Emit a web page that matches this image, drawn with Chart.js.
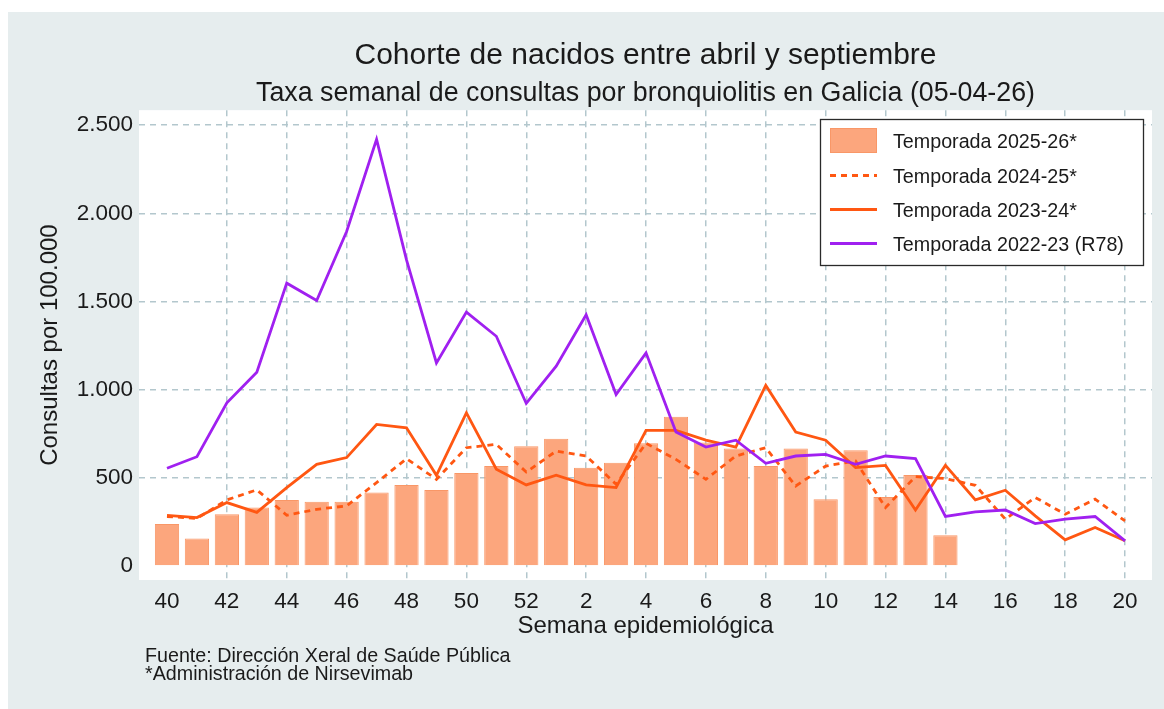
<!DOCTYPE html>
<html>
<head>
<meta charset="utf-8">
<script src="https://cdn.jsdelivr.net/npm/chart.js@4.4.1/dist/chart.umd.min.js"></script>
<style>
  html, body { margin: 0; padding: 0; background: #ffffff; }
  #wrap { position: relative; width: 1164px; height: 709px; }
  canvas { display: block; }
</style>
</head>
<body>
<div id="wrap"><canvas id="c" width="1164" height="709"></canvas></div>
<script>
// ---- Data ----
const weeks = [40,41,42,43,44,45,46,47,48,49,50,51,52,1,2,3,4,5,6,7,8,9,10,11,12,13,14,15,16,17,18,19,20];
const yTicks = [0, 500, 1000, 1500, 2000, 2500];
const season2526 = [238,157,294,332,375,364,364,417,460,432,528,567,680,722,558,586,696,847,700,666,567,666,379,656,392,516,175,null,null,null,null,null,null];
const season2425 = [281,270,375,432,288,322,341,473,609,492,671,690,533,652,624,464,696,605,492,624,671,454,567,596,332,507,496,458,266,389,294,379,256];
const season2324 = [288,275,360,304,445,577,615,803,784,515,869,549,460,515,460,445,769,769,714,675,1024,760,714,558,571,318,571,375,430,285,149,219,143];
const season2223 = [555,620,926,1099,1604,1506,1897,2419,1736,1152,1440,1303,922,1133,1425,973,1209,760,675,714,583,624,633,577,624,609,281,307,318,241,266,281,143];
const seriesLabels = ['Temporada 2025-26*','Temporada 2024-25*','Temporada 2023-24*','Temporada 2022-23 (R78)'];
const titleText = 'Cohorte de nacidos entre abril y septiembre';
const subtitleText = 'Taxa semanal de consultas por bronquiolitis en Galicia (05-04-26)';
const yTitle = 'Consultas por 100.000';
const xTitle = 'Semana epidemiológica';
const notes = ['Fuente: Dirección Xeral de Saúde Pública', '*Administración de Nirsevimab'];

const FONT = "'Liberation Sans', Arial, sans-serif";
const BG = '#e6edee';
const GRID = '#b3c7cd';
const BAR_FILL = '#fca67d';
const BAR_BORDER = '#f99767';
const ORANGE = '#ff5712';
const PURPLE = '#a020f0';

const toXY = arr => arr.map((v, i) => ({ x: i, y: v }));
function fmtThousands(v) {
  const s = String(Math.round(v));
  return s.replace(/\B(?=(\d{3})+(?!\d))/g, '.');
}

const bgPlugin = {
  id: 'bg',
  beforeDraw(chart) {
    const { ctx, chartArea } = chart;
    ctx.save();
    ctx.fillStyle = '#ffffff';
    ctx.fillRect(0, 0, chart.width, chart.height);
    ctx.fillStyle = BG;
    ctx.fillRect(8, 12, chart.width - 8, chart.height - 12);
    ctx.fillStyle = '#ffffff';
    ctx.fillRect(chartArea.left, chartArea.top, chartArea.right - chartArea.left, chartArea.bottom - chartArea.top);
    ctx.restore();
  }
};

const legendPlugin = {
  id: 'boxLegend',
  afterDraw(chart) {
    const { ctx } = chart;
    const ds = chart.data.datasets;
    const x0 = 820, y0 = 119, w = 323, h = 146;
    ctx.save();
    ctx.fillStyle = '#ffffff';
    ctx.fillRect(x0, y0, w, h);
    ctx.strokeStyle = '#2a2a2a';
    ctx.lineWidth = 1.3;
    ctx.strokeRect(x0 + 0.5, y0 + 0.5, w, h);
    const rowsY = [141, 175.5, 209.5, 243.5];
    ctx.font = '19.7px ' + FONT;
    ctx.textBaseline = 'alphabetic';
    ds.forEach((d, r) => {
      const cy = rowsY[r];
      if (d.type === 'bar') {
        ctx.fillStyle = d.backgroundColor;
        ctx.fillRect(830, 128, 47, 25);
        ctx.strokeStyle = d.borderColor;
        ctx.lineWidth = 1;
        ctx.strokeRect(830.5, 128.5, 46, 24);
      } else {
        ctx.strokeStyle = d.borderColor;
        ctx.lineWidth = d.borderWidth;
        ctx.setLineDash(d.borderDash || []);
        ctx.beginPath();
        ctx.moveTo(830, cy);
        ctx.lineTo(877, cy);
        ctx.stroke();
        ctx.setLineDash([]);
      }
      ctx.fillStyle = '#1a1a1a';
      ctx.fillText(d.label, 893, cy + 7);
    });
    ctx.restore();
  }
};

const notesPlugin = {
  id: 'notes',
  afterDraw(chart) {
    const { ctx } = chart;
    ctx.save();
    ctx.font = '19.7px ' + FONT;
    ctx.fillStyle = '#1a1a1a';
    ctx.textBaseline = 'alphabetic';
    ctx.textAlign = 'left';
    ctx.fillText(notes[0], 145, 662);
    ctx.fillText(notes[1], 145, 680);
    ctx.restore();
  }
};

new Chart(document.getElementById('c'), {
  data: {
    datasets: [
      { type: 'bar', label: seriesLabels[0], data: toXY(season2526), backgroundColor: BAR_FILL, borderColor: BAR_BORDER, borderWidth: 1, categoryPercentage: 1, barPercentage: 0.81, order: 4 },
      { type: 'line', label: seriesLabels[1], data: toXY(season2425), borderColor: ORANGE, borderWidth: 2.8, borderDash: [6, 5], pointRadius: 0, fill: false, tension: 0, order: 3 },
      { type: 'line', label: seriesLabels[2], data: toXY(season2324), borderColor: ORANGE, borderWidth: 2.8, pointRadius: 0, fill: false, tension: 0, order: 2 },
      { type: 'line', label: seriesLabels[3], data: toXY(season2223), borderColor: PURPLE, borderWidth: 2.8, pointRadius: 0, fill: false, tension: 0, order: 1 }
    ]
  },
  options: {
    responsive: false,
    animation: false,
    layout: { padding: { left: 0, right: 12, top: 0, bottom: 0 } },
    plugins: {
      legend: { display: false },
      tooltip: { enabled: false },
      title: {
        display: true, text: titleText, fullSize: false,
        color: '#1a1a1a', font: { family: FONT, size: 30, weight: 'normal', lineHeight: 1.2 },
        padding: { top: 38, bottom: 0 }
      },
      subtitle: {
        display: true, text: subtitleText, fullSize: false,
        color: '#1a1a1a', font: { family: FONT, size: 26.8, weight: 'normal', lineHeight: 1.2 },
        padding: { top: 4, bottom: 0 }
      }
    },
    scales: {
      x: {
        type: 'linear',
        offset: false,
        min: -0.935,
        max: 32.9,
        afterBuildTicks(scale) {
          const t = [];
          for (let i = 0; i < weeks.length; i += 2) t.push({ value: i });
          scale.ticks = t;
        },
        afterFit(scale) { scale.height = 129; },
        ticks: {
          padding: 8,
          color: '#1a1a1a',
          font: { family: FONT, size: 22.5 },
          maxRotation: 0,
          autoSkip: false,
          callback: v => String(weeks[v])
        },
        grid: {
          offset: false,
          drawTicks: false,
          lineWidth: 1.5,
          color: ctx => (ctx.tick && ctx.tick.value === 0) ? 'rgba(0,0,0,0)' : GRID
        },
        border: { display: false, dash: [6, 5] },
        title: {
          display: true, text: xTitle, color: '#1a1a1a',
          font: { family: FONT, size: 24, lineHeight: 1.2 },
          padding: { top: 0, bottom: 68.6 }
        }
      },
      y: {
        type: 'linear',
        min: -79,
        max: 2585,
        afterBuildTicks(scale) { scale.ticks = yTicks.map(v => ({ value: v })); },
        afterFit(scale) { scale.width = 139; },
        ticks: {
          padding: 6,
          color: '#1a1a1a',
          font: { family: FONT, size: 22.5 },
          callback: v => fmtThousands(v)
        },
        grid: {
          drawTicks: false,
          lineWidth: 1.5,
          color: ctx => (ctx.tick && ctx.tick.value === 0) ? 'rgba(0,0,0,0)' : GRID
        },
        border: { display: false, dash: [6, 5] },
        title: {
          display: true, text: yTitle, color: '#1a1a1a',
          font: { family: FONT, size: 24, lineHeight: 1.2 },
          padding: { top: 35.5, bottom: 0 }
        }
      }
    }
  },
  plugins: [bgPlugin, legendPlugin, notesPlugin]
});
</script>
</body>
</html>
